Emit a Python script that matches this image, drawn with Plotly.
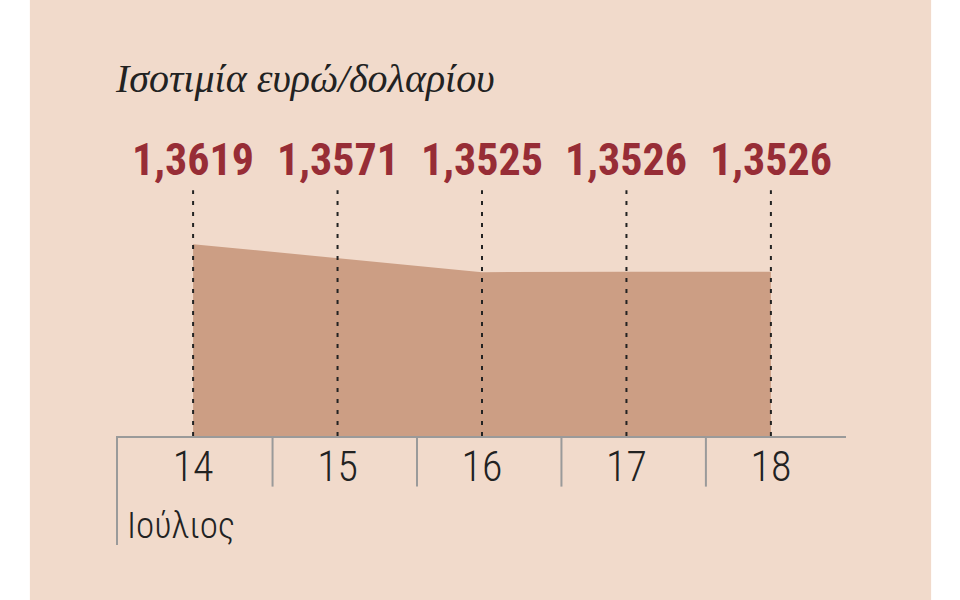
import plotly.graph_objects as go

# %% Data

days = [14, 15, 16, 17, 18]
rates = [1.3619, 1.3571, 1.3525, 1.3526, 1.3526]
rate_labels = ["1,3619", "1,3571", "1,3525", "1,3526", "1,3526"]
day_labels = ["14", "15", "16", "17", "18"]
month_label = "Ιούλιος"
title = "Ισοτιμία ευρώ/δολαρίου"

# %% Styling

panel = "#f1dacb"
area = "#cc9e84"
red = "#972d36"
ink = "#222222"
grey = "#9a9a9a"
narrow = "Roboto Condensed, Liberation Sans Narrow, Roboto"

fig = go.Figure()
fig.add_trace(go.Scatter(
    x = days, y = rates,
    mode = "lines", fill = "tozeroy",
    fillcolor = area, line = dict(width = 0, color = area),
    hoverinfo = "skip", showlegend = False
    ))

# dotted guides from each point up to the labels
for d in days:
    fig.add_shape(type = "line", xref = "x", yref = "paper",
                  x0 = d, x1 = d, y0 = 0, y1 = 1.02,
                  line = dict(color = ink, width = 2, dash = "4px,7px"),
                  layer = "above")

# separators between days
for i in range(len(days) - 1):
    xm = (days[i] + days[i + 1]) / 2 + 0.05
    fig.add_shape(type = "line", xref = "x", yref = "paper",
                  x0 = xm, x1 = xm, y0 = 0, y1 = -0.21,
                  line = dict(color = grey, width = 2))
# left edge line, longer
fig.add_shape(type = "line", xref = "paper", yref = "paper",
              x0 = 0, x1 = 0, y0 = 0, y1 = -0.452,
              line = dict(color = grey, width = 2))

# panel background
fig.add_shape(type = "rect", xref = "paper", yref = "paper",
              x0 = -87 / 728, x1 = 813 / 728, y0 = -164 / 241, y1 = 436 / 241,
              fillcolor = panel, line = dict(width = 0), layer = "below")

for d, lab in zip(days, rate_labels):
    fig.add_annotation(x = d, y = 1.145, xref = "x", yref = "paper",
                       xanchor = "center", yanchor = "middle",
                       text = f"<b>{lab}</b>", showarrow = False,
                       font = dict(family = narrow, size = 44, color = red))

fig.add_annotation(x = -4 / 728, y = 1.485, xref = "paper", yref = "paper",
                   xanchor = "left", yanchor = "middle",
                   text = f"<i>{title}</i>", showarrow = False,
                   font = dict(family = "Liberation Serif", size = 40, color = ink))

fig.add_annotation(x = 8 / 728, y = -0.37, xref = "paper", yref = "paper",
                   xanchor = "left", yanchor = "middle",
                   text = month_label, showarrow = False,
                   font = dict(family = narrow, size = 37, color = ink, weight = 300))

fig.update_layout(
    width = 960, height = 600,
    margin = dict(l = 117, r = 114, t = 195, b = 164),
    paper_bgcolor = "white", plot_bgcolor = "rgba(0,0,0,0)",
    xaxis = dict(range = [14 - 76 / 144.25, 14 + 652 / 144.25],
                 tickvals = days, ticktext = day_labels,
                 showgrid = False, zeroline = False,
                 showline = True, linecolor = grey, linewidth = 2,
                 ticks = "", ticklabelstandoff = -7,
                 tickfont = dict(family = narrow, size = 42, color = ink, weight = 300),
                 fixedrange = True),
    yaxis = dict(range = [1.2975, 1.3784], visible = False, fixedrange = True),
    )

fig.write_html("out.html", config = {"displayModeBar": False},
               post_script = "document.body.style.margin = '0';")
